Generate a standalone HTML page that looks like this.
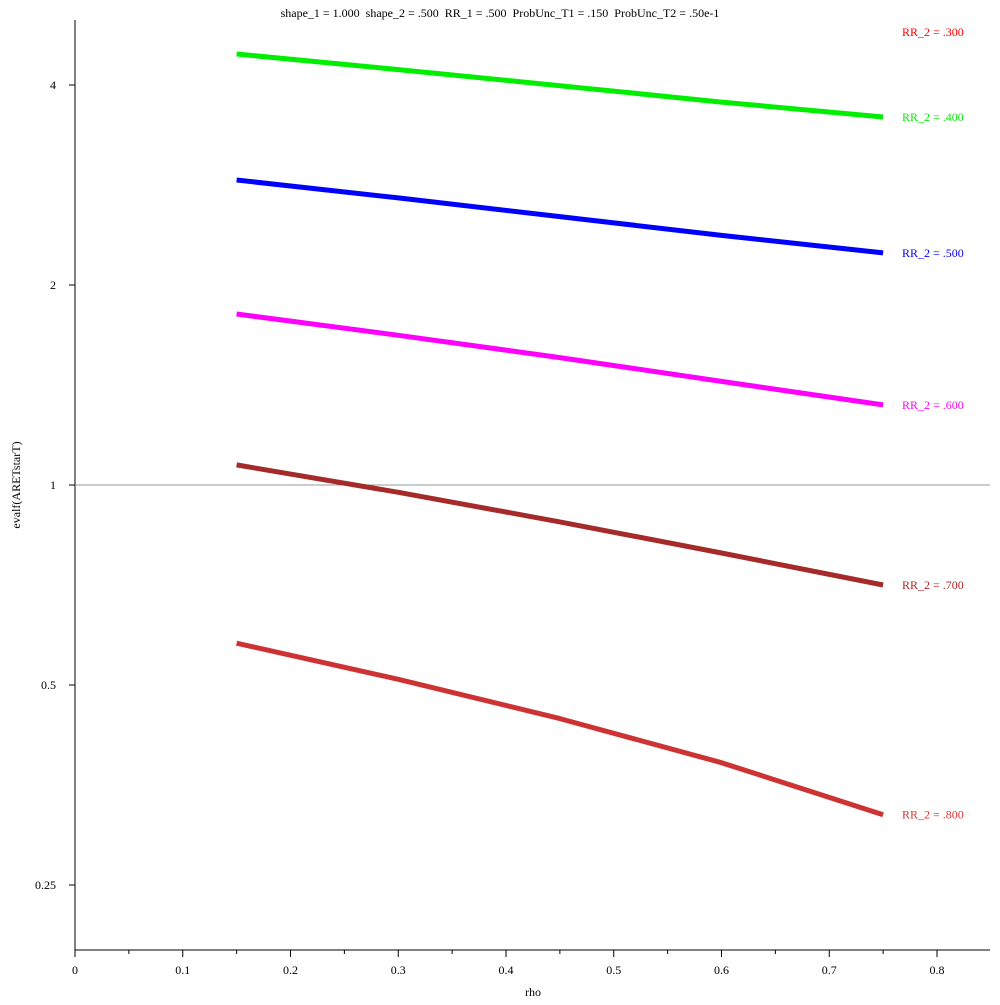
<!DOCTYPE html>
<html><head><meta charset="utf-8"><style>
body{margin:0;background:#fff;}
svg text{font-family:"Liberation Serif",serif;font-size:12px;}
</style></head><body>
<svg id="chart" width="1000" height="1000" xmlns="http://www.w3.org/2000/svg">
<text x="500" y="17" text-anchor="middle" font-size="12" xml:space="preserve" style="white-space:pre">shape_1 = 1.000  shape_2 = .500  RR_1 = .500  ProbUnc_T1 = .150  ProbUnc_T2 = .50e-1</text>
<g id="axes"></g>
<g id="series"></g>
<text x="533" y="996" text-anchor="middle">rho</text>
<text transform="translate(20,485) rotate(-90)" text-anchor="middle">evalf(ARETstarT)</text>
</svg>
<script>
const rhoValues = [0.15, 0.3, 0.45, 0.6, 0.75];
const seriesNames = ["RR_2 = .400", "RR_2 = .500", "RR_2 = .600", "RR_2 = .700", "RR_2 = .800"];
const rr400 = [4.454, 4.220, 3.990, 3.770, 3.580];
const rr500 = [2.878, 2.705, 2.535, 2.375, 2.235];
const rr600 = [1.809, 1.680, 1.555, 1.432, 1.320];
const rr700 = [1.072, 0.975, 0.880, 0.790, 0.707];
const rr800 = [0.578, 0.510, 0.445, 0.382, 0.319];
const xTicks = [0, 0.1, 0.2, 0.3, 0.4, 0.5, 0.6, 0.7, 0.8];
const yTicks = [4, 2, 1, 0.5, 0.25];
const yTickLabels = ["4", "2", "1", "0.5", "0.25"];

const NS = "http://www.w3.org/2000/svg";
const X = v => 75 + v * 1077.5;
const Y = v => 485 - 200 * Math.log2(v);
function mk(tag, attrs, parent, text) {
  const e = document.createElementNS(NS, tag);
  for (const k in attrs) e.setAttribute(k, attrs[k]);
  if (text !== undefined) e.textContent = text;
  parent.appendChild(e);
  return e;
}
const axes = document.getElementById('axes');
let e;
e = mk('line', {x1: 75, y1: 20, x2: 75, y2: 950, stroke: '#000'}, axes);


e = mk('line', {x1: 75, y1: 950, x2: 990, y2: 950, stroke: '#000'}, axes);


e = mk('line', {x1: 75, y1: Y(1), x2: 990, y2: Y(1), stroke: '#999'}, axes);


for (let i = 0; i < xTicks.length; i++) {
  const t = xTicks[i];
  e = mk('line', {x1: X(t), y1: 950, x2: X(t), y2: 957, stroke: '#000'}, axes);
  
  
  e = mk('text', {x: X(t), y: 974, 'text-anchor': 'middle'}, axes, String(t));
  
  
  if (i < xTicks.length - 1) {
    const m = t + 0.05;
    e = mk('line', {x1: X(m), y1: 950, x2: X(m), y2: 954, stroke: '#000'}, axes);
    
    
  }
}
for (let i = 0; i < yTicks.length; i++) {
  const t = yTicks[i];
  e = mk('line', {x1: 69, y1: Y(t), x2: 75, y2: Y(t), stroke: '#000'}, axes);
  
  
  e = mk('text', {x: 56, y: Y(t) + 4, 'text-anchor': 'end'}, axes, yTickLabels[i]);
  
  
}
const seriesData = [rr400, rr500, rr600, rr700, rr800];
const colors = ['#00ee00', '#0000ff', '#ff00ff', '#a52a2a', '#cd3333'];
const labelColors = ['#00ee00', '#0000ff', '#ff00ff', '#b22222', '#dd3333'];
const sg = document.getElementById('series');
for (let s = 0; s < seriesData.length; s++) {
  const d = seriesData[s];
  const pts = d.map((v, i) => X(rhoValues[i]).toFixed(1) + ',' + Y(v).toFixed(1)).join(' ');
  e = mk('polyline', {points: pts, fill: 'none', stroke: colors[s], 'stroke-width': 5, 'stroke-linejoin': 'round'}, sg);
  
  
  const last = d[d.length - 1];
  e = mk('text', {x: 902, y: Y(last) + 4, fill: labelColors[s]}, sg, seriesNames[s]);
  
  
}
e = mk('text', {x: 902, y: 36, fill: '#ff0000'}, sg, 'RR_2 = .300');


</script>
</body></html>
